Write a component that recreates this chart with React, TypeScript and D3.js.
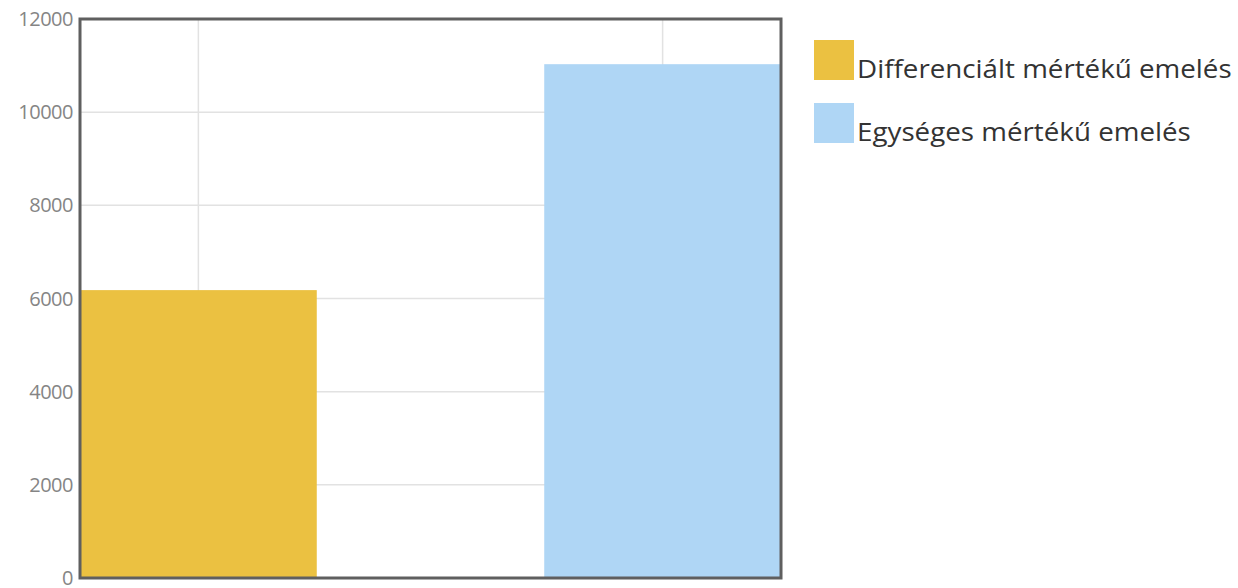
import React from "react";
import * as d3 from "d3";

const categories = ["Differenciált mértékű emelés", "Egységes mértékű emelés"];
const values = [6180, 11030];
const colors = ["#EBC141", "#AFD6F5"];
const yTicks = [0, 2000, 4000, 6000, 8000, 10000, 12000];

const W = 1238;
const H = 588;
const left = 80;
const right = 781;
const top = 19;
const bottom = 578;

export default function App() {
  const x = d3.scaleBand<string>().domain(categories).range([left, right]).paddingInner(0.49).paddingOuter(0);
  const y = d3.scaleLinear().domain([0, 12000]).range([bottom, top]);
  return (
    <svg width={W} height={H} style={{ position: "absolute", left: 0, top: 0 }} fontFamily="'Open Sans', sans-serif">
      <rect x={0} y={0} width={W} height={H} fill="#fff" />
      {yTicks.map((t) => (
        <line key={"g" + t} x1={left} x2={right} y1={y(t)} y2={y(t)} stroke="#e2e2e2" strokeWidth={1.5} />
      ))}
      {categories.map((c) => (
        <line key={"v" + c} x1={x(c)! + x.bandwidth() / 2} x2={x(c)! + x.bandwidth() / 2} y1={top} y2={bottom} stroke="#e2e2e2" strokeWidth={1.5} />
      ))}
      {categories.map((c, i) => (
        <rect key={"b" + c} x={x(c)!} y={y(values[i])} width={x.bandwidth()} height={bottom - y(values[i])} fill={colors[i]} />
      ))}
      <rect x={left} y={top} width={right - left} height={bottom - top} fill="none" stroke="#5f5f5f" strokeWidth={3} />
      {yTicks.map((t) => (
        <text key={"t" + t} x={73} y={y(t)} dy="0.35em" textAnchor="end" fontSize={20} fill="#858585" letterSpacing={-0.5}>
          {t}
        </text>
      ))}
      {categories.map((c, i) => (
        <g key={"l" + c} transform={`translate(814, ${40 + i * 63})`}>
          <rect x={0} y={0} width={40} height={40} fill={colors[i]} />
          <g transform="translate(43, 38) scale(1.11, 1)">
            <text x={0} y={0} fontSize={25} fill="#333">
              {c}
            </text>
          </g>
        </g>
      ))}
    </svg>
  );
}
